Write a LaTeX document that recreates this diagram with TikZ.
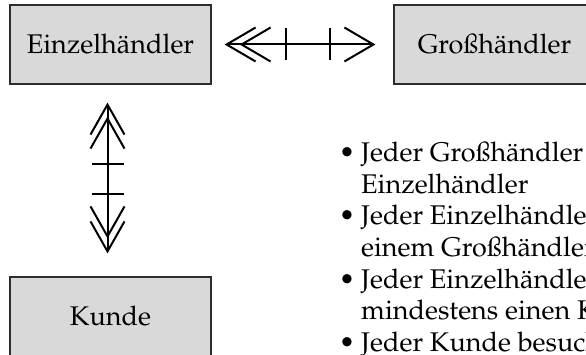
\documentclass[tikz,border=0pt]{standalone}
\usepackage[T1]{fontenc}
\renewcommand{\rmdefault}{ppl}
\definecolor{boxgray}{RGB}{217,217,217}
\definecolor{boxline}{RGB}{45,45,45}
\begin{document}
\begin{tikzpicture}[x=1pt,y=-1pt,
  entity/.style={draw=boxline,line width=1.2pt,fill=boxgray,
    minimum width=201pt,minimum height=79pt,inner sep=0pt,
    font=\fontsize{27}{31}\selectfont},
  link/.style={line width=2pt,line join=miter},
  txt/.style={anchor=base west,inner sep=0pt,font=\fontsize{27}{31}\selectfont},
  dot/.style={anchor=base,inner sep=0pt,font=\fontsize{27}{31}\selectfont}]
\useasboundingbox (0,0) rectangle (586,355);
\clip (0,0) rectangle (586,355);

% entities
\node[entity] (einzel) at (110.5,44.5) {Einzelh\"andler};
\node[entity] (gross)  at (494.5,44.5) {Gro\ss h\"andler};
\node[entity] (kunde)  at (110.5,316.5) {Kunde};

% relationship Einzelhaendler -- Grosshaendler
\coordinate (hL) at ([xshift=15pt]einzel.east);
\coordinate (hR) at ([xshift=-20pt]gross.west);
\draw[link] (hL) -- (hR);
\draw[link] ([shift={(29,-17)}]hL) -- (hL) -- ([shift={(29,17)}]hL);
\draw[link] ([shift={(44,-17)}]hL) -- ([shift={(15,0)}]hL) -- ([shift={(44,17)}]hL);
\draw[link] ([shift={(59,-16)}]hL) -- ([shift={(59,16)}]hL);
\draw[link] ([shift={(103,-16)}]hL) -- ([shift={(103,16)}]hL);
\draw[link] ([shift={(-29,-17)}]hR) -- (hR) -- ([shift={(-29,17)}]hR);

% relationship Einzelhaendler -- Kunde
\coordinate (vT) at ([xshift=-3pt,yshift=-20pt]einzel.south);
\coordinate (vB) at ([xshift=-3pt,yshift=25pt]kunde.north);
\draw[link] (vT) -- (vB);
\draw[link] ([shift={(-17,30)}]vT) -- (vT) -- ([shift={(17,30)}]vT);
\draw[link] ([shift={(-17,44)}]vT) -- ([shift={(0,14)}]vT) -- ([shift={(17,44)}]vT);
\draw[link] ([shift={(-16,59)}]vT) -- ([shift={(16,59)}]vT);
\draw[link] ([shift={(-16,89)}]vT) -- ([shift={(16,89)}]vT);
\draw[link] ([shift={(-17,-30)}]vB) -- (vB) -- ([shift={(17,-30)}]vB);
\draw[link] ([shift={(-17,-45)}]vB) -- ([shift={(0,-15)}]vB) -- ([shift={(17,-45)}]vB);

% rules
\node[dot] (b1) at (347,162) {\textbullet};
\node[txt] (t1) at (361,162) {Jeder Gro\ss h\"andler};
\node[txt] (t2) at (361,193.5) {Einzelh\"andler};
\node[dot] (b2) at (347,225) {\textbullet};
\node[txt] (t3) at (361,225) {Jeder Einzelh\"andler};
\node[txt] (t4) at (361,256.5) {einem Gro\ss h\"andler};
\node[dot] (b3) at (347,288) {\textbullet};
\node[txt] (t5) at (361,288) {Jeder Einzelh\"andler};
\node[txt] (t6) at (361,319.5) {mindestens einen Kunden};
\node[dot] (b4) at (347,351) {\textbullet};
\node[txt] (t7) at (361,351) {Jeder Kunde besucht};
\end{tikzpicture}
\end{document}
